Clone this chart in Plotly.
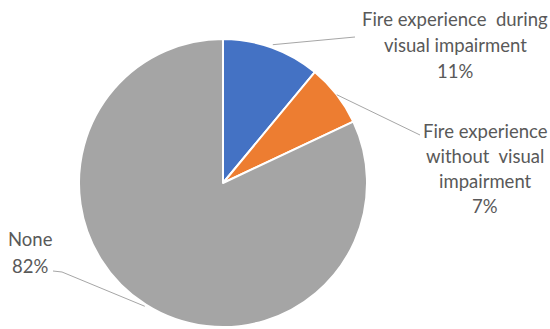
import math
import plotly.graph_objects as go

categories = ["Fire experience during visual impairment",
              "Fire experience without visual impairment",
              "None"]
values = [11, 7, 82]
label_lines = [["Fire experience  during", "visual impairment"],
               ["Fire experience", "without  visual", "impairment"],
               ["None"]]
colors = ["#4472C4", "#ED7D31", "#A5A5A5"]

W, H = 550, 329
CX, CY, R = 223, 183, 144

fig = go.Figure(go.Pie(
    labels=categories, values=values, sort=False, direction="clockwise",
    rotation=0, textinfo="none", hoverinfo="label+percent",
    marker=dict(colors=colors, line=dict(color="white", width=2)),
    domain=dict(x=[(CX - R) / W, (CX + R) / W], y=[1 - (CY + R) / H, 1 - (CY - R) / H]),
    showlegend=False,
))

def px2paper(x, y):
    return x / W, 1 - y / H

# label layout: (center x, first line y, line spacing), leader line elbow points
label_pos = [(455, 19, 26), (485, 131, 25), (30, 239, 27)]
elbows = [[(355, 37)], [(420, 135)], [(62, 272), (53, 271)]]
radial = [147, 144, 146]

total = sum(values)
cum = 0
font = dict(family="Lato", size=18.5, color="#595959")
annotations = []
shapes = []
for i, v in enumerate(values):
    mid = (cum + v / 2) / total * 2 * math.pi
    cum += v
    pct = f"{round(v / total * 100)}%"
    lines = label_lines[i] + [pct]
    cx, y0, dy = label_pos[i]
    for j, t in enumerate(lines):
        ax, ay = px2paper(cx, y0 + j * dy)
        annotations.append(dict(x=ax, y=ay, xref="paper", yref="paper", text=t,
                                showarrow=False, font=font, xanchor="center", yanchor="middle"))
    sx = CX + radial[i] * math.sin(mid)
    sy = CY - radial[i] * math.cos(mid)
    pts = [(sx, sy)] + elbows[i]
    path = "M " + " L ".join(f"{px2paper(x, y)[0]},{px2paper(x, y)[1]}" for x, y in pts)
    shapes.append(dict(type="path", path=path, xref="paper", yref="paper",
                       line=dict(color="#A6A6A6", width=1)))

fig.update_layout(width=W, height=H, margin=dict(l=0, r=0, t=0, b=0),
                  paper_bgcolor="white", plot_bgcolor="white",
                  annotations=annotations, shapes=shapes)
fig.write_html("out.html", config={"displayModeBar": False},
               post_script="document.body.style.margin='0';document.body.style.padding='0';")
